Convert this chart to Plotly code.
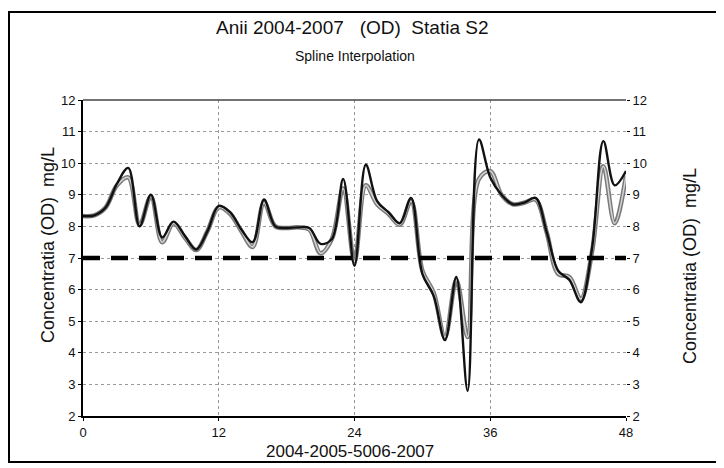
import plotly.graph_objects as go

# luni (0..48) si concentratia OD
luni = list(range(49))

od_spline = [
    8.33, 8.35, 8.6, 9.35, 9.85, 8.0, 9.0, 7.65, 8.15, 7.7,
    7.27, 7.85, 8.65, 8.45, 7.9, 7.5, 8.85, 8.0, 7.95, 7.97,
    7.95, 7.45, 7.6, 9.5, 6.75, 9.95, 8.8, 8.45, 8.1, 8.9,
    6.5, 5.8, 4.4, 6.4, 2.8, 10.75, 9.55, 9.0, 8.7, 8.75,
    8.9, 7.8, 6.6, 6.3, 5.6, 7.3, 10.7, 9.3, 9.75,
]

od_masurat = [
    8.33, 8.35, 8.6, 9.3, 9.55, 8.05, 8.95, 7.5, 8.1, 7.65,
    7.25, 7.85, 8.6, 8.4, 7.85, 7.35, 8.75, 8.0, 7.95, 7.97,
    7.9, 7.15, 7.6, 9.2, 6.9, 9.3, 8.7, 8.4, 8.05, 8.8,
    6.6, 5.9, 4.5, 6.3, 4.5, 9.5, 9.75, 9.0, 8.7, 8.75,
    8.85, 7.8, 6.5, 6.4, 5.7, 7.2, 9.9, 8.1, 9.6,
]

# limita de 7 mg/L
limita_x = [0, 48]
limita_y = [7, 7]

x_ticks = [0, 12, 24, 36, 48]
y_ticks = list(range(2, 13))

FONT = 'Liberation Sans, Arial, sans-serif'

# pagina html are margine de 8px la body, deci totul e decalat cu 8px
OFF = 8
W, H = 716, 460
# zona de plotare in pixelii ferestrei 724x468
L, R, T, B = 83, 626, 100, 416


def px_x(p):
    return (p - L) / (R - L)


def px_y(p):
    return (B - p) / (B - T)


fig = go.Figure()

# seria masurata: linie gri "conturata"
fig.add_trace(go.Scatter(
    x=luni, y=od_masurat, mode='lines', line_shape='spline',
    line=dict(color='#7a7a7a', width=4.5), hoverinfo='skip',
))
fig.add_trace(go.Scatter(
    x=luni, y=od_masurat, mode='lines', line_shape='spline',
    line=dict(color='#d6d6d6', width=1.5), hoverinfo='skip',
))
# spline-ul
fig.add_trace(go.Scatter(
    x=luni, y=od_spline, mode='lines', line_shape='spline',
    line=dict(color='#111111', width=2.4),
))
# limita
fig.add_trace(go.Scatter(
    x=limita_x, y=limita_y, mode='lines',
    line=dict(color='#000000', width=4.5, dash='17px,11px'),
))
# axa dreapta (doar pentru etichete)
fig.add_trace(go.Scatter(
    x=[0], y=[7], yaxis='y2', mode='markers',
    marker=dict(opacity=0), hoverinfo='skip',
))

grid = dict(showgrid=True, gridcolor='#9a9a9a', gridwidth=1, griddash='dot')

fig.update_layout(
    width=W, height=H,
    showlegend=False,
    paper_bgcolor='white', plot_bgcolor='white',
    margin=dict(l=L - OFF, r=W - (R - OFF), t=T - OFF, b=H - (B - OFF)),
    font=dict(family=FONT, color='#111111', size=13),
    xaxis=dict(
        range=[0, 48], tickvals=x_ticks, **grid,
        showline=True, linecolor='#000000', linewidth=2,
        ticks='outside', ticklen=3, tickcolor='#000000',
        zeroline=False, tickfont=dict(size=13),
    ),
    yaxis=dict(
        range=[2, 12], tickvals=y_ticks, **grid,
        showline=True, linecolor='#000000', linewidth=2,
        ticks='outside', ticklen=3, tickcolor='#000000',
        zeroline=False, tickfont=dict(size=13),
    ),
    yaxis2=dict(
        range=[2, 12], tickvals=y_ticks, overlaying='y', side='right',
        showgrid=False, showline=False, zeroline=False,
        ticks='outside', ticklen=3, tickcolor='#000000',
        tickfont=dict(size=13),
    ),
)

# chenarul exterior si marginea de sus a zonei de plotare
fig.add_shape(type='rect', xref='paper', yref='paper',
              x0=px_x(9), x1=px_x(720), y0=px_y(462), y1=px_y(12),
              line=dict(color='#000000', width=2))
fig.add_shape(type='line', xref='paper', yref='paper',
              x0=0, x1=1, y0=1, y1=1,
              line=dict(color='#444444', width=1.5))

texte = [
    ('Anii 2004-2007   (OD)  Statia S2', 352, 27, 19, 0),
    ('Spline Interpolation', 355, 56, 14, 0),
    ('2004-2005-5006-2007', 350, 451, 17, 0),
    ('Concentratia (OD)  mg/L', 48, 245, 18, -90),
    ('Concentratia (OD)  mg/L', 690, 266, 18, -90),
]
for text, x, y, size, unghi in texte:
    fig.add_annotation(
        text=text, xref='paper', yref='paper',
        x=px_x(x), y=px_y(y), showarrow=False, textangle=unghi,
        xanchor='center', yanchor='middle',
        font=dict(family=FONT, size=size, color='#111111'),
    )

fig.write_html("out.html")
